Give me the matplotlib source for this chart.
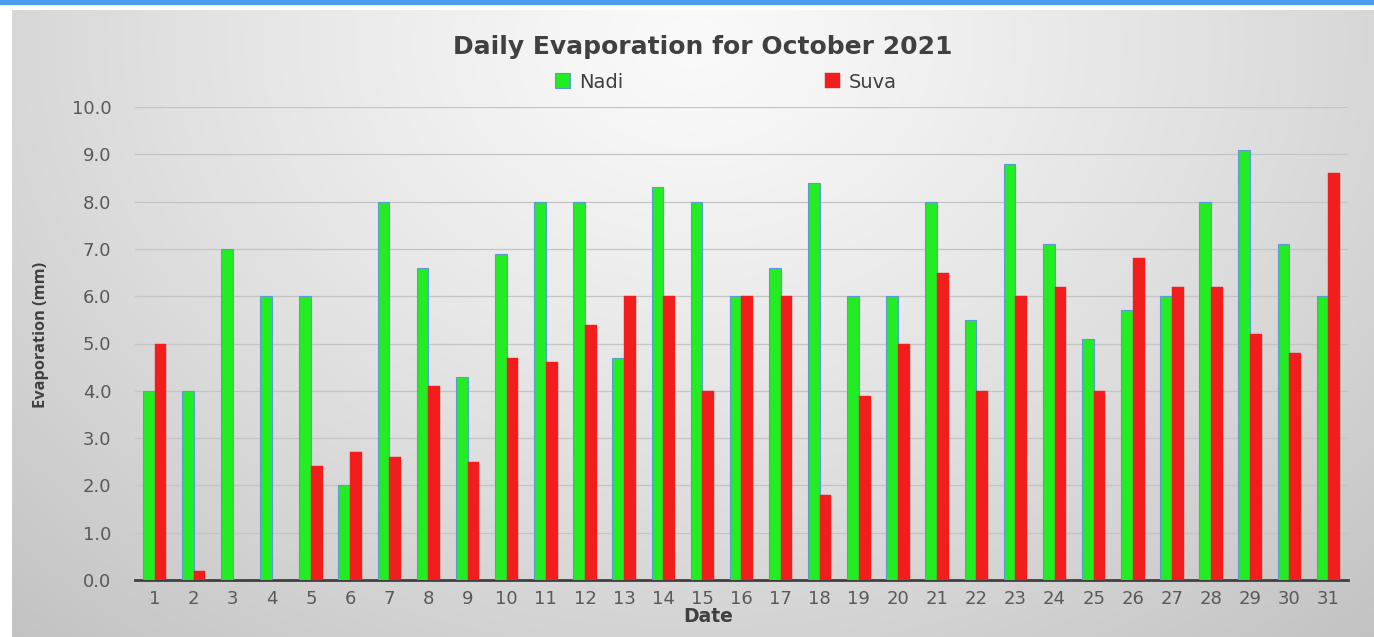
import matplotlib.pyplot as plt
import numpy as np
from matplotlib.patches import Rectangle

dates = list(range(1, 32))
nadi = [4.0, 4.0, 7.0, 6.0, 6.0, 2.0, 8.0, 6.6, 4.3, 6.9, 8.0, 8.0, 4.7, 8.3, 8.0, 6.0,
        6.6, 8.4, 6.0, 6.0, 8.0, 5.5, 8.8, 7.1, 5.1, 5.7, 6.0, 8.0, 9.1, 7.1, 6.0]
suva = [5.0, 0.2, 0.0, 0.0, 2.4, 2.7, 2.6, 4.1, 2.5, 4.7, 4.6, 5.4, 6.0, 6.0, 4.0, 6.0,
        6.0, 1.8, 3.9, 5.0, 6.5, 4.0, 6.0, 6.2, 4.0, 6.8, 6.2, 6.2, 5.2, 4.8, 8.6]
yticks = np.arange(0, 10.5, 1.0)

W, H = 1374, 637
fig = plt.figure(figsize=(W / 100, H / 100), dpi=100)
fig.patch.set_facecolor('white')

# blue strip at top
fig.patches.append(Rectangle((0, 1 - 5 / H), 1, 5 / H, transform=fig.transFigure,
                             facecolor='#4a9cf5', edgecolor='none', zorder=0))

# gradient panel background
bg = fig.add_axes([12 / W, 0, 1 - 12 / W, 1 - 10 / H], zorder=0)
yy, xx = np.mgrid[0:1:300j, 0:1:600j]
d = np.sqrt(((xx - 0.5) / 0.75) ** 2 + ((yy - 0.05) / 1.3) ** 2)
shade = 0.98 - 0.22 * np.clip(d, 0, 1) ** 1.2
bg.imshow(np.dstack([shade] * 3), aspect='auto', extent=(0, 1, 0, 1), origin='upper')
bg.axis('off')

ax = fig.add_axes([135 / W, (H - 580) / H, (1348 - 135) / W, (580 - 107) / H], zorder=1)
ax.patch.set_alpha(0)

x = np.array(dates)
w = 0.3
ax.bar(x - w / 2, nadi, w, color='#22ec22', edgecolor='#5b9bd5', linewidth=0.8,
       label='Nadi', zorder=3)
ax.bar(x + w / 2, suva, w, color='#f21e1e', edgecolor='#f21e1e', linewidth=0.3,
       label='Suva', zorder=3)

ax.set_xlim(0.5, 31.5)
ax.set_ylim(0, 10)
ax.set_yticks(yticks)
ax.set_yticklabels([f'{v:.1f}' for v in yticks])
ax.set_xticks(x)
ax.grid(axis='y', color='#c4c4c4', linewidth=0.9, zorder=0)
for s in ['top', 'right', 'left']:
    ax.spines[s].set_visible(False)
ax.spines['bottom'].set_color('#404040')
ax.spines['bottom'].set_linewidth(2)
ax.tick_params(axis='both', length=0, labelsize=13, colors='#595959')
ax.tick_params(axis='y', pad=17)
ax.tick_params(axis='x', pad=7.5)

fig.text(708 / W, 1 - 616 / H, 'Date', ha='center', va='center',
         fontsize=13.5, fontweight='bold', color='#404040')
fig.text(41 / W, 1 - 335 / H, 'Evaporation (mm)', ha='center', va='center', rotation=90,
         fontsize=11.8, fontweight='bold', color='#404040',
         family=['Liberation Sans Narrow', 'Open Sans'])

fig.text(703 / W, 1 - 47 / H, 'Daily Evaporation for October 2021', ha='center', va='center',
         fontsize=18, fontweight='bold', color='#404040')
leg = fig.legend(loc='center', bbox_to_anchor=(726 / W, 1 - 82 / H), ncol=2, frameon=False,
                 handlelength=0.77, handleheight=0.77, handletextpad=0.46,
                 columnspacing=10.4, prop={'size': 14})
for t in leg.get_texts():
    t.set_color('#404040')

fig.savefig('out.png', dpi=100)
